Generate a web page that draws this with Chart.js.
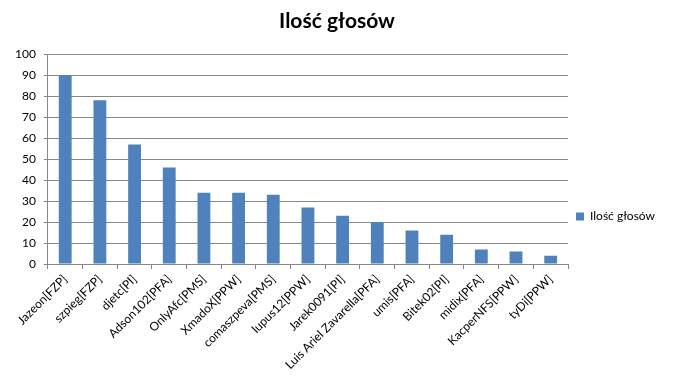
<!DOCTYPE html>
<html>
<head>
<meta charset="utf-8">
<script src="https://cdn.jsdelivr.net/npm/chart.js@4"></script>
<style>
  html, body { margin: 0; padding: 0; background: #fff; }
  #wrap { width: 676px; height: 392px; }
</style>
</head>
<body>
<div id="wrap"><canvas id="chart" width="676" height="392"></canvas></div>
<script>
const players = ['Jazeon[FZP]', 'szpieg[FZP]', 'djetc[PI]', 'Adson102[PFA]', 'OnlyAfc[PMS]', 'XmadoX[PPW]',
    'comaszpeva[PMS]', 'lupus12[PPW]', 'Jarek0091[PI]', 'Luis Ariel Zavarella[PFA]', 'umis[PFA]',
    'Bitek02[PI]', 'midix[PFA]', 'KacperNFS[PPW]', 'tyDi[PPW]'];
const votes = [90, 78, 57, 46, 34, 34, 33, 27, 23, 20, 16, 14, 7, 6, 4];
const seriesName = 'Ilość głosów';

const font = 'Lato, "Open Sans", sans-serif';
const gridColor = '#878787';

// Excel centres the legend on the whole chart, so push Chart.js's legend down a bit
const legendShift = {
    id: 'legendShift',
    afterLayout(chart) {
        const lg = chart.legend;
        if (!lg) return;
        lg.top += 29;
        lg.bottom += 29;
        lg.left -= 2;
        lg.right -= 2;
    }
};

new Chart(document.getElementById('chart'), {
    type: 'bar',
    data: {
        labels: players,
        datasets: [{ label: seriesName, data: votes, backgroundColor: '#4F81BD', borderWidth: 0,
            categoryPercentage: 1, barPercentage: 0.37 }]
    },
    options: {
        responsive: false,
        animation: false,
        layout: { padding: { left: 7, right: 9, top: 0, bottom: 17 } },
        scales: {
            x: {
                grid: { drawOnChartArea: false, offset: true, tickLength: 5, color: gridColor },
                border: { color: gridColor },
                ticks: { color: '#000', font: { family: font, size: 12 }, minRotation: 45, maxRotation: 45, autoSkip: false }
            },
            y: {
                min: 0, max: 100,
                grid: { color: gridColor, tickLength: 4 },
                border: { color: gridColor },
                ticks: { stepSize: 10, color: '#000', font: { family: font, size: 12 }, padding: 8 }
            }
        },
        plugins: {
            title: { display: true, text: seriesName, color: '#000',
                font: { family: font, size: 21, weight: 'bold' }, padding: { top: 9, bottom: 20 } },
            legend: { position: 'right',
                labels: { boxWidth: 8, boxHeight: 8, color: '#000', font: { family: font, size: 12 }, padding: 10 } },
            tooltip: { enabled: false }
        }
    },
    plugins: [legendShift]
});
</script>
</body>
</html>
